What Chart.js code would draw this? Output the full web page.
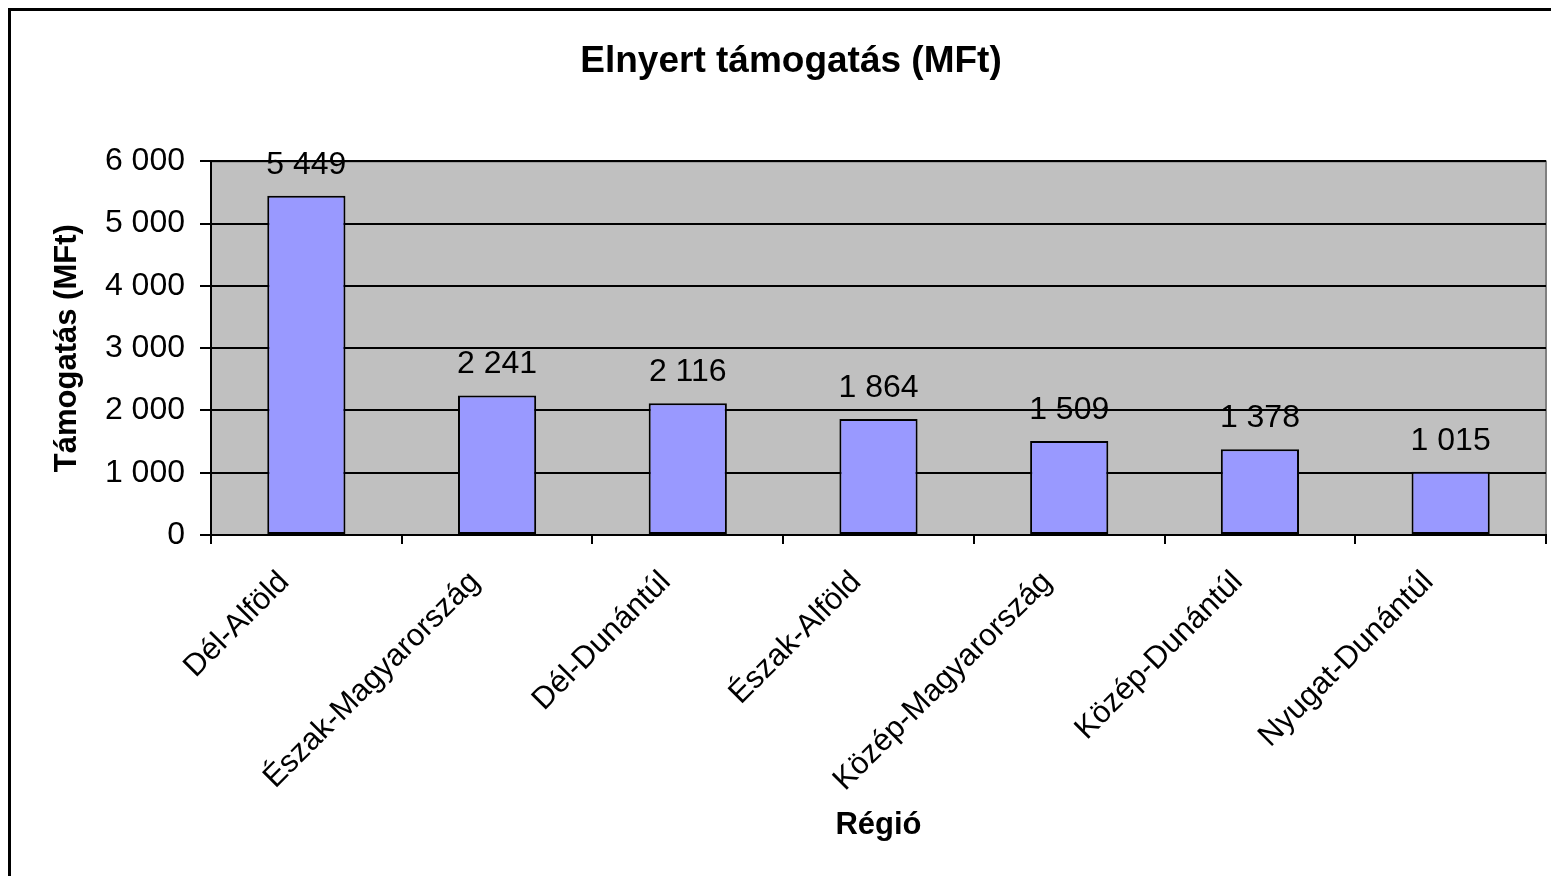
<!DOCTYPE html>
<html>
<head>
<meta charset="utf-8">
<script src="https://cdn.jsdelivr.net/npm/chart.js@4"></script>
<style>
  html, body { margin: 0; padding: 0; background: #fff; }
  #wrap { position: relative; width: 1551px; height: 876px; overflow: hidden; }
  #frame { position: absolute; left: 8px; top: 8px; width: 1600px; height: 900px; border: 3px solid #000; box-sizing: border-box; }
  canvas { position: absolute; left: 0; top: 0; }
</style>
</head>
<body>
<div id="wrap">
  <div id="frame"></div>
  <canvas id="chart" width="1551" height="876"></canvas>
</div>
<script>
(function() {
  'use strict';
  // régiók
  const regions = ['Dél-Alföld', 'Észak-Magyarország', 'Dél-Dunántúl', 'Észak-Alföld', 'Közép-Magyarország', 'Közép-Dunántúl', 'Nyugat-Dunántúl'];
  // elnyert támogatás (MFt)
  const amounts = [5449, 2241, 2116, 1864, 1509, 1378, 1015];
  // tengely
  const yTicks = [0, 1000, 2000, 3000, 4000, 5000, 6000];
  const chartTitle = 'Elnyert támogatás (MFt)';
  const xTitle = 'Régió';
  const yTitle = 'Támogatás (MFt)';

  const FONT = '"Liberation Sans", Arial, sans-serif';

  // ezres tagolás szóközzel
  function fmt(v) {
    return String(v).replace(/\B(?=(\d{3})+(?!\d))/g, ' ');
  }

  // szürke háttér a rajzterületen
  const plotBg = {
    id: 'plotBg',
    beforeDraw(chart) {
      const a = chart.chartArea;
      const ctx = chart.ctx;
      ctx.save();
      ctx.fillStyle = '#c0c0c0';
      ctx.fillRect(a.left, a.top, a.right - a.left, a.bottom - a.top);
      ctx.strokeStyle = '#808080';
      ctx.lineWidth = 2;
      ctx.beginPath();
      ctx.moveTo(a.left, a.top);
      ctx.lineTo(a.right, a.top);
      ctx.lineTo(a.right, a.bottom);
      ctx.stroke();
      ctx.restore();
    }
  };

  // értékcímkék az oszlopok fölött
  const valueLabels = {
    id: 'valueLabels',
    afterDatasetsDraw(chart) {
      const ctx = chart.ctx;
      const meta = chart.getDatasetMeta(0);
      ctx.save();
      ctx.fillStyle = '#000';
      ctx.font = '32px ' + FONT;
      ctx.textAlign = 'center';
      ctx.textBaseline = 'alphabetic';
      meta.data.forEach(function(bar, i) {
        ctx.fillText(fmt(amounts[i]), bar.x, bar.y - 22);
      });
      ctx.restore();
    }
  };

  new Chart(document.getElementById('chart').getContext('2d'), {
    type: 'bar',
    data: {
      labels: regions,
      datasets: [{
        data: amounts,
        backgroundColor: '#9999ff',
        borderColor: '#000',
        borderWidth: 2,
        borderSkipped: false,
        categoryPercentage: 1,
        barPercentage: 0.41,
      }],
    },
    options: {
      responsive: false,
      animation: false,
      layout: { padding: { left: 36, right: 5, top: 0, bottom: 32 } },
      plugins: {
        legend: { display: false },
        tooltip: { enabled: false },
        title: {
          display: true,
          text: chartTitle,
          color: '#000',
          font: { family: FONT, size: 37, weight: 'bold' },
          padding: { top: 40, bottom: 77 },
        },
      },
      scales: {
        x: {
          grid: { drawOnChartArea: false, color: '#000', lineWidth: 2, tickLength: 9 },
          border: { color: '#000', width: 2 },
          ticks: {
            color: '#000',
            font: { family: FONT, size: 31 },
            minRotation: 45,
            maxRotation: 45,
            padding: 20,
            labelOffset: -22,
          },
          title: {
            display: true,
            text: xTitle,
            color: '#000',
            font: { family: FONT, size: 31, weight: 'bold' },
            padding: 0,
          },
          afterFit(scale) { scale.height = 309; },
        },
        y: {
          min: 0,
          max: 6000,
          afterBuildTicks(scale) {
            scale.ticks = yTicks.map(function(v) { return { value: v }; });
          },
          grid: { color: '#000', lineWidth: 2, tickLength: 11 },
          border: { color: '#000', width: 2 },
          ticks: {
            color: '#000',
            font: { family: FONT, size: 32 },
            padding: 15,
            callback: function(v) { return fmt(v); },
          },
          title: {
            display: true,
            text: yTitle,
            color: '#000',
            font: { family: FONT, size: 31, weight: 'bold' },
            padding: { top: 13, bottom: 0 },
          },
          afterFit(scale) { scale.width = 175; },
        },
      },
    },
    plugins: [plotBg, valueLabels],
  });
})();
</script>
</body>
</html>
